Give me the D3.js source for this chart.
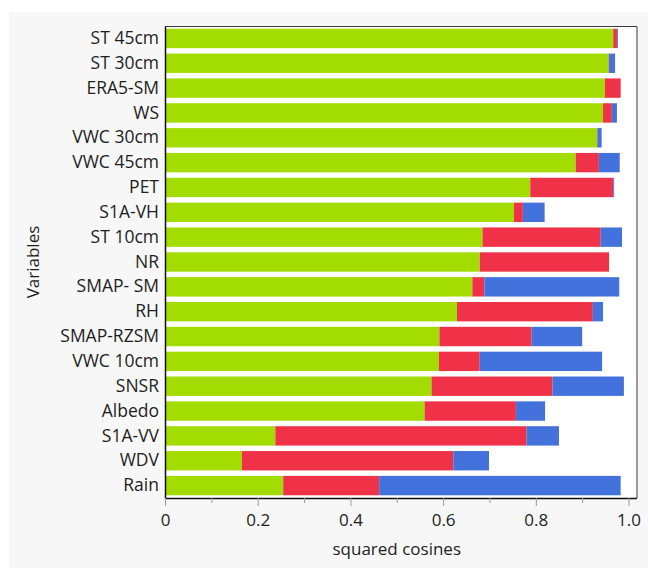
<!DOCTYPE html>
<html>
<head>
<meta charset="utf-8">
<script src="https://cdn.jsdelivr.net/npm/d3@7"></script>
<style>
  html, body { margin: 0; padding: 0; background: #ffffff; }
  svg { display: block; }
  text { font-family: "Open Sans", "Noto Sans", sans-serif; fill: #1e1e1e; }
</style>
</head>
<body>
<svg id="chart" width="648" height="568"></svg>
<script>
// Variables, listed top to bottom
const variables = ["ST 45cm", "ST 30cm", "ERA5-SM", "WS", "VWC 30cm", "VWC 45cm", "PET",
  "S1A-VH", "ST 10cm", "NR", "SMAP- SM", "RH", "SMAP-RZSM", "VWC 10cm", "SNSR",
  "Albedo", "S1A-VV", "WDV", "Rain"];

// Squared cosines on each of the three dimensions
const dim1 = [0.967, 0.957, 0.949, 0.945, 0.932, 0.886, 0.788, 0.753, 0.685, 0.679, 0.663,
  0.630, 0.592, 0.591, 0.575, 0.560, 0.238, 0.166, 0.255];
const dim2 = [0.008, 0.001, 0.034, 0.019, 0.001, 0.050, 0.179, 0.019, 0.255, 0.279, 0.026,
  0.293, 0.199, 0.088, 0.261, 0.197, 0.542, 0.456, 0.207];
const dim3 = [0.002, 0.013, 0.000, 0.011, 0.009, 0.045, 0.002, 0.047, 0.046, 0.000, 0.291,
  0.022, 0.109, 0.264, 0.154, 0.063, 0.070, 0.077, 0.521];

const seriesKeys = ["dim1", "dim2", "dim3"];
const seriesColors = ["#a2dc00", "#ef3247", "#4472dc"];

const majorTicks = [0, 0.2, 0.4, 0.6, 0.8, 1.0];
const minorTicks = [0.1, 0.3, 0.5, 0.7, 0.9];
const tickLabels = ["0", "0.2", "0.4", "0.6", "0.8", "1.0"];

const rows = variables.map((v, i) => ({ name: v, dim1: dim1[i], dim2: dim2[i], dim3: dim3[i] }));

const svg = d3.select("#chart");
const W = 648, H = 568;
const plot = { left: 165, right: 636.5, top: 26, bottom: 498 };

// panel background
svg.append("rect").attr("x", 9).attr("y", 12).attr("width", W - 9).attr("height", H - 12)
  .attr("fill", "#f7f7f7");
svg.append("rect").attr("x", plot.left).attr("y", plot.top)
  .attr("width", plot.right - plot.left).attr("height", plot.bottom - plot.top)
  .attr("fill", "#ffffff");

const x = d3.scaleLinear().domain([0, 1.0172]).range([plot.left, plot.right]);
const y = d3.scaleBand().domain(variables).range([plot.top, plot.bottom])
  .paddingInner(0.22).paddingOuter(0.11);

const stacked = d3.stack().keys(seriesKeys)(rows);
const color = d3.scaleOrdinal().domain(seriesKeys).range(seriesColors);

svg.append("g").selectAll("g").data(stacked).join("g")
  .attr("fill", d => color(d.key))
  .selectAll("rect").data(d => d).join("rect")
  .attr("x", d => x(d[0]))
  .attr("y", d => y(d.data.name))
  .attr("width", d => Math.max(0, x(d[1]) - x(d[0])))
  .attr("height", y.bandwidth());

// frame on top and right
svg.append("path")
  .attr("d", `M${plot.left},${plot.top + 0.5}H${plot.right + 0.5}V${plot.bottom}`)
  .attr("fill", "none").attr("stroke", "#3a3a3a").attr("stroke-width", 1);

// left axis with category labels
const yAxis = svg.append("g").attr("transform", `translate(${plot.left},0)`)
  .call(d3.axisLeft(y).tickSize(0).tickPadding(6));
yAxis.select(".domain").attr("stroke", "#111").attr("stroke-width", 1.5);
yAxis.selectAll("text").style("font-size", "17.5px").attr("fill", "#1e1e1e")
  .attr("font-family", "'Open Sans', 'Noto Sans', sans-serif");

// bottom axis: major ticks with labels, minor ticks without
const xAxis = svg.append("g").attr("transform", `translate(0,${plot.bottom})`)
  .call(d3.axisBottom(x).tickValues(majorTicks).tickSize(8).tickPadding(8)
    .tickFormat((d, i) => tickLabels[i]));
xAxis.select(".domain").attr("d", `M${plot.left},0.5H${plot.right + 0.5}`)
  .attr("stroke", "#111").attr("stroke-width", 1.5);
xAxis.selectAll(".tick line").attr("stroke", "#999");
xAxis.selectAll("text").style("font-size", "17px").attr("fill", "#1e1e1e")
  .attr("font-family", "'Open Sans', 'Noto Sans', sans-serif");

const minor = svg.append("g").attr("transform", `translate(0,${plot.bottom})`)
  .call(d3.axisBottom(x).tickValues(minorTicks).tickSize(5).tickFormat(""));
minor.select(".domain").remove();
minor.selectAll(".tick line").attr("stroke", "#999");

// axis titles
svg.append("text")
  .attr("x", (x(0) + x(1)) / 2).attr("y", 555)
  .attr("text-anchor", "middle").style("font-size", "17px")
  .text("squared cosines");

svg.append("text")
  .attr("transform", `translate(39,${(plot.top + plot.bottom) / 2}) rotate(-90)`)
  .attr("text-anchor", "middle").style("font-size", "17px")
  .text("Variables");
</script>
</body>
</html>
